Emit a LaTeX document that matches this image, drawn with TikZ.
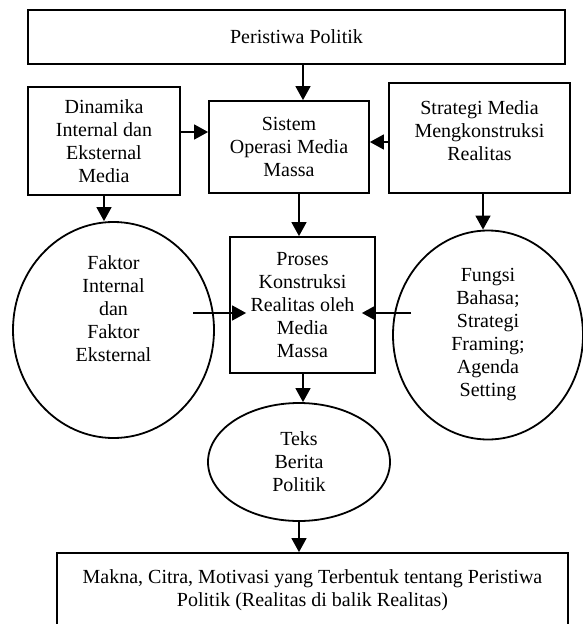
\documentclass[tikz,border=0pt]{standalone}
\usepackage{fontspec}
\setmainfont{Liberation Serif}
\usetikzlibrary{shapes.geometric}
\usetikzlibrary{arrows.meta}

\begin{document}
\begin{tikzpicture}[x=1pt,y=-1pt,
	kotak/.style={draw,line width=1.8pt,align=center,inner sep=0pt,
		font=\fontsize{20}{23}\selectfont},
	bulat/.style={draw,ellipse,line width=1.8pt,align=center,inner sep=0pt,
		font=\fontsize{20}{23}\selectfont},
	panah/.style={line width=1.5pt,-{Triangle[length=14pt,width=15pt]}}]
			%\draw[help lines,step=20] (0,0) grid (583,624);
			\useasboundingbox (0,0) rectangle (583,624);
			\clip (0,0) rectangle (583,624);
			
			\node[kotak,minimum width=537,minimum height=54] (peristiwa) at (296.5,37) {Peristiwa Politik};
			
			\node[kotak,minimum width=152,minimum height=108] (dinamika) at (104,141) {Dinamika\\Internal dan\\Eksternal\\Media};
			\node[kotak,minimum width=160,minimum height=92] (sistem) at (289,147) {Sistem\\Operasi Media\\Massa};
			\node[kotak,minimum width=181,minimum height=110] (strategi) at (479.5,138) {Strategi Media\\Mengkonstruksi\\Realitas\\[-9pt]};
			
			\node[bulat,minimum width=201,minimum height=216] (faktor) at (113.5,330) {Faktor\\Internal\\dan\\Faktor\\Eksternal\\[20pt]};
			\node[kotak,minimum width=145,minimum height=136] (proses) at (302.5,305) {Proses\\Konstruksi\\Realitas oleh\\Media\\Massa};
			\node[bulat,minimum width=190,minimum height=209] (fungsi) at (488,335) {Fungsi\\Bahasa;\\Strategi\\Framing;\\Agenda\\Setting};
			
			\node[bulat,minimum width=182,minimum height=118] (teks) at (299,462) {Teks\\Berita\\Politik};
			\node[kotak,minimum width=511,minimum height=74] (makna) at (312.5,590) {Makna, Citra, Motivasi yang Terbentuk tentang Peristiwa\\Politik (Realitas di balik Realitas)};
			
			\coordinate (ujungkiri) at (193,313);
			\coordinate (ujungkanan) at (411,313);
			
			\draw[panah] (peristiwa.south -| 303,0) -- (sistem.north -| 303,0);
			\draw[panah] (dinamika.east |- 0,132) -- (sistem.west |- 0,132);
			\draw[panah] (strategi.west |- 0,142) -- (sistem.east |- 0,142);
			
			\draw[panah] (dinamika.south) -- (dinamika.south |- faktor.north);
			\draw[panah] (sistem.south -| 299,0) -- (proses.north -| 299,0);
			\draw[panah] (strategi.south -| 483,0) -- (fungsi.north -| 483,0);
			
			\draw[panah] (ujungkiri) -- ([xshift=17pt]proses.west |- ujungkiri);
			\draw[panah] (ujungkanan) -- ([xshift=-14pt]proses.east |- ujungkanan);
			
			\draw[panah] (proses.south -| 303,0) -- (teks.north -| 303,0);
			\draw[panah] (teks.south) -- (makna.north -| teks.south);
			
			\end{tikzpicture}
\end{document}
